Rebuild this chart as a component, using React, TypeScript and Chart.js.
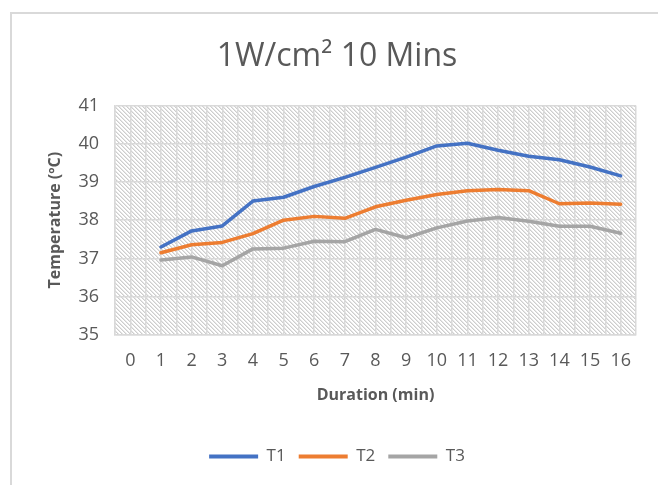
import React, { useEffect, useRef } from "react";
import { Chart, registerables } from "chart.js";

Chart.register(...registerables);

// Elapsed time in minutes for each reading
const durations = [1, 2, 3, 4, 5, 6, 7, 8, 9, 10, 11, 12, 13, 14, 15, 16];
// Tick labels shown along the duration axis
const xTickLabels = ["0", "1", "2", "3", "4", "5", "6", "7", "8", "9", "10", "11", "12", "13", "14", "15", "16"];

// Temperature readings (ºC) for each probe
const t1 = [37.3, 37.72, 37.85, 38.5, 38.6, 38.88, 39.12, 39.38, 39.65, 39.94, 40.01, 39.83, 39.67, 39.58, 39.39, 39.16];
const t2 = [37.15, 37.36, 37.42, 37.65, 38.0, 38.1, 38.05, 38.35, 38.52, 38.67, 38.77, 38.8, 38.77, 38.43, 38.45, 38.42];
const t3 = [36.96, 37.04, 36.81, 37.25, 37.27, 37.45, 37.44, 37.76, 37.54, 37.8, 37.98, 38.07, 37.97, 37.84, 37.84, 37.66];

const seriesNames = ["T1", "T2", "T3"];
const seriesColors = ["#4472C4", "#ED7D31", "#A5A5A5"];

const FONT = "'Open Sans', 'DejaVu Sans', sans-serif";
const TEXT = "#595959";
const GRID = "#d9d9d9";

function makeHatch(ctx: CanvasRenderingContext2D) {
  const size = 4;
  const tile = document.createElement("canvas");
  tile.width = size;
  tile.height = size;
  const tctx = tile.getContext("2d")!;
  const img = tctx.createImageData(size, size);
  for (let y = 0; y < size; y++) {
    for (let x = 0; x < size; x++) {
      const d = (((x - y) % size) + size) % size;
      const v = d === 0 ? 205 : d === 1 ? 230 : 255;
      const i = (y * size + x) * 4;
      img.data[i] = v;
      img.data[i + 1] = v;
      img.data[i + 2] = v;
      img.data[i + 3] = 255;
    }
  }
  tctx.putImageData(img, 0, 0);
  return ctx.createPattern(tile, "repeat");
}

const hatchBackground = {
  id: "hatchBackground",
  beforeDraw(chart: any) {
    const { ctx, chartArea } = chart;
    if (!chartArea) return;
    const pattern = makeHatch(ctx);
    if (!pattern) return;
    ctx.save();
    ctx.fillStyle = pattern;
    ctx.fillRect(chartArea.left, chartArea.top, chartArea.right - chartArea.left, chartArea.bottom - chartArea.top);
    ctx.restore();
  },
};

export default function App() {
  const canvasRef = useRef<HTMLCanvasElement | null>(null);

  useEffect(() => {
    if (!canvasRef.current) return;
    const values = [t1, t2, t3];
    const chart = new Chart(canvasRef.current, {
      type: "line",
      data: {
        datasets: values.map((vals, k) => ({
          label: seriesNames[k],
          data: durations.map((d, i) => ({ x: d, y: vals[i] })),
          borderColor: seriesColors[k],
          backgroundColor: seriesColors[k],
          borderWidth: 3.5,
          pointRadius: 0,
          pointHoverRadius: 0,
          tension: 0,
          borderCapStyle: "round" as const,
          borderJoinStyle: "round" as const,
          fill: false,
        })),
      },
      options: {
        responsive: false,
        animation: false,
        devicePixelRatio: 1,
        layout: { padding: { left: 38, right: 22, top: 0, bottom: 10 } },
        plugins: {
          title: {
            display: true,
            text: "1W/cm² 10 Mins",
            color: TEXT,
            font: { family: FONT, size: 32, weight: "normal" as const },
            padding: { top: 38, bottom: 29 },
          },
          legend: {
            position: "bottom",
            labels: {
              color: TEXT,
              font: { family: FONT, size: 17 },
              boxWidth: 49,
              boxHeight: 4,
              padding: 13,
              generateLabels: () =>
                seriesNames.map((name, k) => ({
                  text: name,
                  fillStyle: seriesColors[k],
                  strokeStyle: seriesColors[k],
                  lineWidth: 0,
                  fontColor: TEXT,
                  datasetIndex: k,
                  hidden: false,
                })),
            },
          },
          tooltip: { enabled: false },
        },
        scales: {
          x: {
            type: "linear",
            min: -0.5,
            max: 16.5,
            ticks: {
              stepSize: 0.5,
              maxTicksLimit: 100,
              autoSkip: false,
              maxRotation: 0,
              padding: 15,
              color: TEXT,
              font: { family: FONT, size: 18 },
              callback: (v: any) => {
                const n = Number(v);
                return Number.isInteger(n) ? xTickLabels[n] ?? "" : "";
              },
            },
            grid: { color: GRID, lineWidth: 1.5, drawTicks: false },
            border: { color: GRID, width: 1.5 },
            title: {
              display: true,
              text: "Duration (min)",
              color: TEXT,
              font: { family: FONT, size: 16, weight: "bold" as const },
              padding: { top: 0, bottom: 30 },
            },
            afterFit: (scale: any) => {
              scale.height = 100;
            },
          },
          y: {
            min: 35,
            max: 41,
            ticks: {
              stepSize: 1,
              padding: 16,
              color: TEXT,
              font: { family: FONT, size: 18 },
            },
            grid: { color: GRID, lineWidth: 1.5, drawTicks: false },
            border: { color: GRID, width: 1.5 },
            title: {
              display: true,
              text: "Temperature (ºC)",
              color: TEXT,
              font: { family: FONT, size: 16, weight: "bold" as const },
              padding: { top: 8, bottom: 0 },
            },
            afterFit: (scale: any) => {
              scale.width = 77;
            },
          },
        },
      },
      plugins: [hatchBackground],
    });
    return () => chart.destroy();
  }, []);

  return (
    <div style={{ position: "fixed", left: 0, top: 0, width: 658, height: 485, background: "#fff" }}>
      <div
        style={{
          position: "absolute",
          left: 10,
          top: 12,
          width: 648,
          height: 473,
          borderLeft: "2px solid #d9d9d9",
          borderTop: "2px solid #d9d9d9",
          boxSizing: "border-box",
        }}
      />
      <canvas ref={canvasRef} width={658} height={485} style={{ position: "absolute", left: 0, top: 0 }} />
    </div>
  );
}
